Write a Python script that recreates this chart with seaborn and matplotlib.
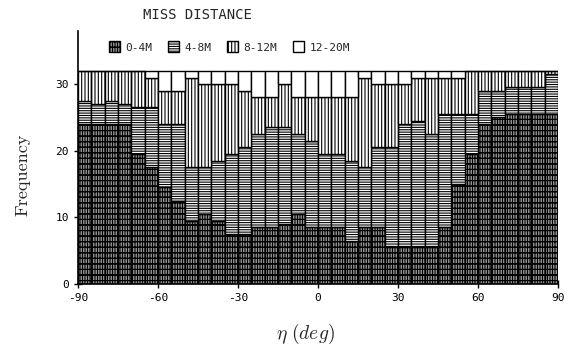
"""Stacked histogram of eta by miss distance class (scanned report figure)."""

import matplotlib.pyplot as plt
import pandas as pd
import seaborn as sns
from matplotlib.patches import Patch

plt.switch_backend("Agg")

# bin centres (5 deg bins from -90 to 90)
ETA_CENTERS = [
    -87.5, -82.5, -77.5, -72.5, -67.5, -62.5, -57.5, -52.5, -47.5,
    -42.5, -37.5, -32.5, -27.5, -22.5, -17.5, -12.5, -7.5, -2.5,
    2.5, 7.5, 12.5, 17.5, 22.5, 27.5, 32.5, 37.5, 42.5,
    47.5, 52.5, 57.5, 62.5, 67.5, 72.5, 77.5, 82.5, 87.5,
]
BIN_EDGES = [-90, -85, -80, -75, -70, -65, -60, -55, -50, -45, -40, -35, -30,
             -25, -20, -15, -10, -5, 0, 5, 10, 15, 20, 25, 30, 35, 40, 45,
             50, 55, 60, 65, 70, 75, 80, 85, 90]

MISS_LEVELS = ["0-4M", "4-8M", "8-12M", "12-20M"]

COUNT_0_4 = [24, 24, 24, 24, 19.5, 17.5, 14.5, 12.5, 9.5, 10.5, 9.5, 7.5,
             7.5, 8.5, 8.5, 9, 10.5, 8.5, 8.5, 8.5, 6.5, 8.5, 8.5, 5.5,
             5.5, 5.5, 5.5, 8.5, 15, 19.5, 24, 25, 25.5, 25.5, 25.5, 25.5]
COUNT_4_8 = [3.5, 3, 3.5, 3, 7, 9, 9.5, 11.5, 8, 7, 9, 12,
             13, 14, 15, 14.5, 12, 13, 11, 11, 12, 9, 12, 15,
             18.5, 19, 17, 17, 10.5, 6, 5, 4, 4, 4, 4, 6]
COUNT_8_12 = [4.5, 5, 4.5, 5, 5.5, 4.5, 5, 5, 13.5, 12.5, 11.5, 10.5,
              8.5, 5.5, 4.5, 6.5, 5.5, 6.5, 8.5, 8.5, 9.5, 13.5, 9.5, 9.5,
              6, 6.5, 8.5, 5.5, 5.5, 6.5, 3, 3, 2.5, 2.5, 2.5, 0.5]
COUNT_12_20 = [0, 0, 0, 0, 0, 1, 3, 3, 1, 2, 2, 2,
               3, 4, 4, 2, 4, 4, 4, 4, 4, 1, 2, 2,
               2, 1, 1, 1, 1, 0, 0, 0, 0, 0, 0, 0]

HATCHES = ["||||||||||---", "-------", "|||||", ""]


def main() -> None:
    sns.set_style("ticks")
    plt.rcParams["axes.unicode_minus"] = False
    plt.rcParams["hatch.linewidth"] = 0.8
    plt.rcParams["mathtext.fontset"] = "cm"

    counts = [COUNT_0_4, COUNT_4_8, COUNT_8_12, COUNT_12_20]
    rows = []
    for level, vals in zip(MISS_LEVELS, counts):
        for eta, n in zip(ETA_CENTERS, vals):
            rows.append({"eta": eta, "miss": level, "count": n})
    df = pd.DataFrame(rows)

    fig = plt.figure(figsize=(5.7, 3.51), dpi=100)
    ax = fig.add_axes([0.137, 0.191, 0.842, 0.721])

    # seaborn puts the last hue level at the bottom of the stack
    sns.histplot(
        data=df,
        x="eta",
        weights="count",
        hue="miss",
        hue_order=MISS_LEVELS[::-1],
        multiple="stack",
        bins=BIN_EDGES,
        palette=["white"] * 4,
        edgecolor="black",
        linewidth=1.0,
        alpha=1,
        legend=False,
        ax=ax,
    )

    # bottom layer has the smallest bar bottoms, so sort containers by that
    conts = sorted(ax.containers, key=lambda c: sum(p.get_y() for p in c))
    for cont, hatch in zip(conts, HATCHES):
        for p in cont:
            p.set_facecolor("white")
            p.set_edgecolor("black")
            p.set_hatch(hatch)

    ax.set_xlim(-90, 90)
    ax.set_ylim(0, 38)
    ax.set_xticks([-90, -60, -30, 0, 30, 60, 90])
    ax.set_yticks([0, 10, 20, 30])
    ax.tick_params(direction="inout", length=6, width=1, colors="black",
                   labelsize=8)
    for lab in ax.get_xticklabels() + ax.get_yticklabels():
        lab.set_family("DejaVu Sans Mono")
    sns.despine(ax=ax)
    for s in ["left", "bottom"]:
        ax.spines[s].set_linewidth(1.2)
        ax.spines[s].set_color("black")

    ax.set_ylabel("Frequency", fontfamily="cmr10", fontsize=13)
    ax.yaxis.set_label_coords(-0.1, 0.43)
    ax.set_xlabel(r"$\eta\ (deg)$", fontsize=14)
    ax.xaxis.set_label_coords(0.473, -0.15)

    handles = [
        Patch(facecolor="white", edgecolor="black", hatch=h, label=l)
        for h, l in zip(HATCHES, MISS_LEVELS)
    ]
    fig.legend(
        handles=handles,
        loc="center left",
        bbox_to_anchor=(103 / 570, 1 - 47 / 351),
        ncol=4,
        frameon=False,
        prop={"family": "DejaVu Sans Mono", "size": 8},
        handlelength=1.0,
        handleheight=1.1,
        handletextpad=0.5,
        columnspacing=1.4,
        borderpad=0,
    )
    fig.text(197 / 570, 1 - 15 / 351, "MISS DISTANCE", ha="center",
             va="center", family="DejaVu Sans Mono", fontsize=10)

    fig.savefig("out.png", dpi=100, facecolor="white")
    plt.close(fig)


if __name__ == "__main__":
    main()
